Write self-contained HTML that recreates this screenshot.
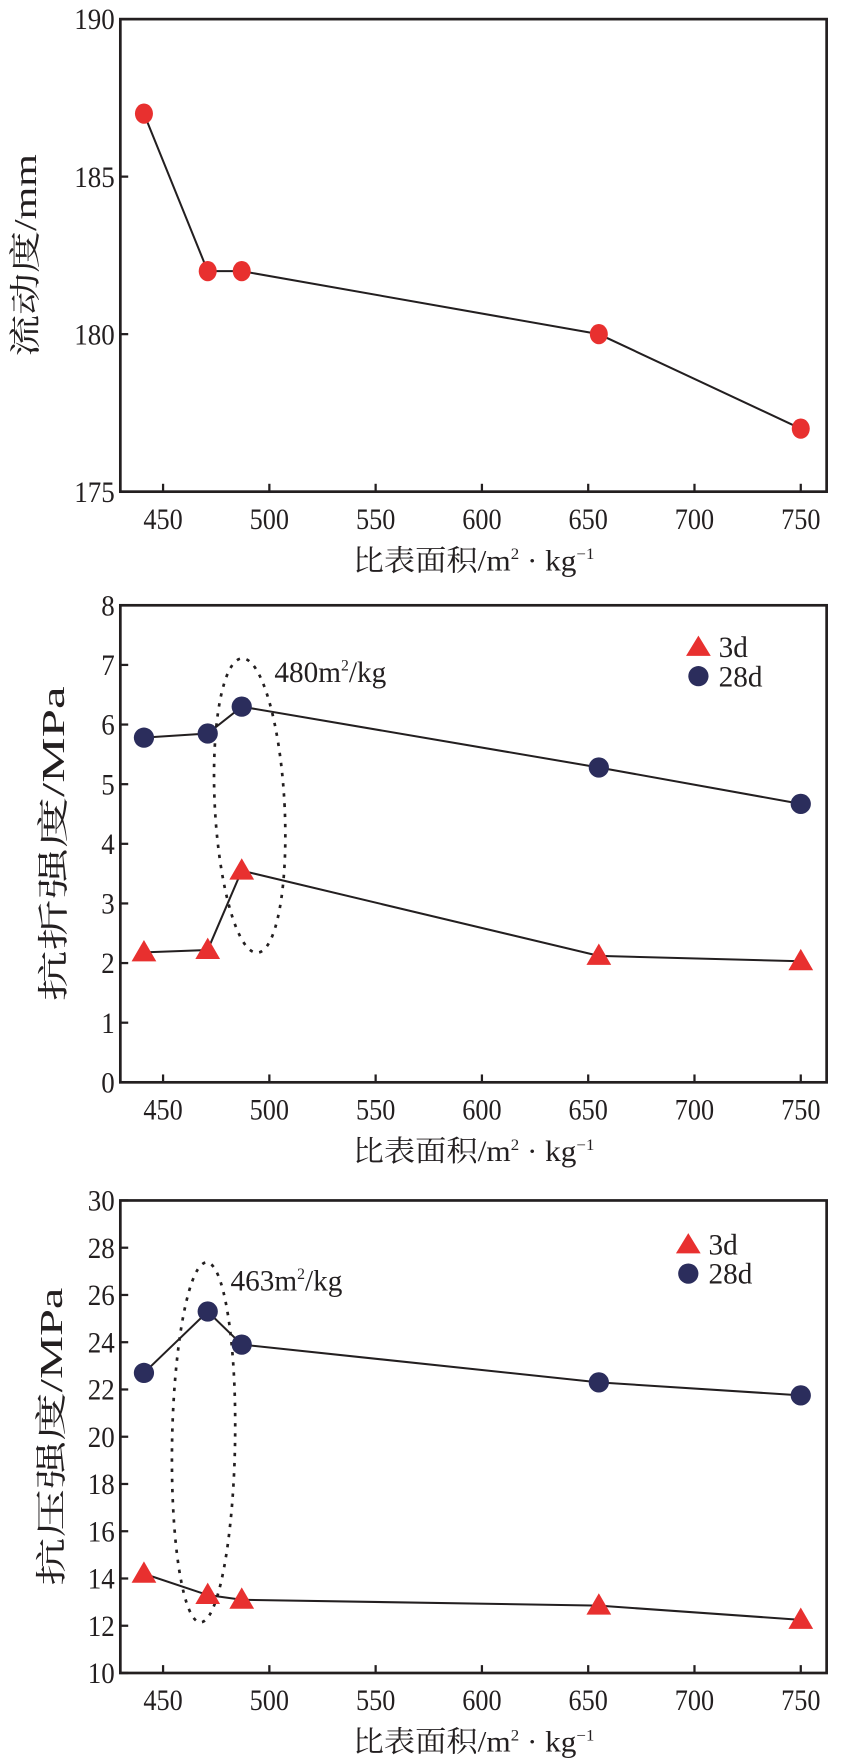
<!DOCTYPE html>
<html><head><meta charset="utf-8"><style>
html,body{margin:0;padding:0;background:#fff;}
svg{display:block;}
text{font-family:"Liberation Serif","Noto Serif CJK SC","Noto Sans CJK SC",serif;fill:#231f20;}
</style></head><body>
<svg id="c" width="848" height="1763" viewBox="0 0 754 1567" preserveAspectRatio="none" xmlns="http://www.w3.org/2000/svg"></svg>
<script>
const xCats=[441,471,487,655,750];
const xTicks=[450,500,550,600,650,700,750];
const flowVals=[187,182,182,180,177];
const flowTicks=[175,180,185,190];
const flex3d=[2.18,2.22,3.55,2.12,2.03];
const flex28d=[5.78,5.85,6.3,5.28,4.67];
const flexTicks=[0,1,2,3,4,5,6,7,8];
const comp3d=[14.2,13.3,13.1,12.85,12.25];
const comp28d=[22.7,25.3,23.9,22.3,21.75];
const compTicks=[10,12,14,16,18,20,22,24,26,28,30];

const NS="http://www.w3.org/2000/svg";
const svg=document.getElementById('c');
function mk(tag,attrs,parent){const e=document.createElementNS(NS,tag);for(const k in attrs)e.setAttribute(k,attrs[k]);(parent||svg).appendChild(e);return e;}
const L=107,R=735;
function xs(v){return 145+(v-450)*(712-145)/300;}

function panel(name,top,bot,ymin,ymax,ticks,ytitle,ytx,ytl,series,ell,legend){
  const g=mk('g',{});
  
  
  const ys=v=>bot-(v-ymin)*(bot-top)/(ymax-ymin);
  const frame=mk('rect',{x:L,y:top,width:R-L,height:bot-top,fill:'none',stroke:'#231f20','stroke-width':2.4},g);
  
  
  ticks.forEach(t=>{
    const y=ys(t);
    mk('line',{x1:L,x2:L+7,y1:y,y2:y,stroke:'#231f20','stroke-width':2},g);
    const tx=mk('text',{x:L-5,y:y+9,'text-anchor':'end','font-size':26,textLength:String(t).length*12,lengthAdjust:'spacingAndGlyphs'},g);
    tx.textContent=t;
    
    
  });
  xTicks.forEach(t=>{
    const x=xs(t);
    mk('line',{x1:x,x2:x,y1:bot,y2:bot-7,stroke:'#231f20','stroke-width':2},g);
    const tx=mk('text',{x:x,y:bot+33,'text-anchor':'middle','font-size':26,textLength:35,lengthAdjust:'spacingAndGlyphs'},g);
    tx.textContent=t;
    
    
  });
  const xt=mk('text',{x:421,y:bot+70,'text-anchor':'middle','font-size':26,textLength:215,lengthAdjust:'spacingAndGlyphs'},g);
  xt.innerHTML='比表面积/m<tspan font-size="14" dy="-10">2</tspan><tspan dy="10"> · kg</tspan><tspan font-size="14" dy="-10">−1</tspan>';
  
  
  const yc=(top+bot)/2;
  const yt=mk('text',{x:0,y:0,'text-anchor':'middle','font-size':28,textLength:ytl,lengthAdjust:'spacingAndGlyphs',transform:`translate(${ytx},${yc}) rotate(-90)`},g);
  yt.textContent=ytitle;
  
  
  if(ell){
    const e=mk('ellipse',{cx:ell[0],cy:ell[1],rx:ell[2],ry:ell[3],fill:'none',stroke:'#231f20','stroke-width':2.4,'stroke-dasharray':'3 6',transform:`rotate(${ell[4]} ${ell[0]} ${ell[1]})`},g);
    
    
    const lt=mk('text',{x:ell[5],y:ell[6],'font-size':26},g);
    lt.innerHTML=ell[7]+'m<tspan font-size="14" dy="-10">2</tspan><tspan dy="10">/kg</tspan>';
    
    
  }
  series.forEach(s=>{
    const pts=xCats.map((c,i)=>[xs(c),ys(s.vals[i])]);
    const pl=mk('polyline',{points:pts.map(p=>p.join(',')).join(' '),fill:'none',stroke:'#231f20','stroke-width':1.8},g);
    
    
    pts.forEach(p=>{
      let m;
      if(s.shape==='tri'){
        m=mk('polygon',{points:`${p[0]},${p[1]-11} ${p[0]-11},${p[1]+8} ${p[0]+11},${p[1]+8}`,fill:s.color},g);
      }else{
        m=mk('ellipse',{cx:p[0],cy:p[1],rx:s.rx||9,ry:9,fill:s.color},g);
      }
      
      
    });
  });
  if(legend){
    const lg=mk('g',{},g);
    
    
    const [lx,ly]=legend;
    mk('polygon',{points:`${lx},${ly-10} ${lx-11},${ly+8} ${lx+11},${ly+8}`,fill:'#e8302f'},lg);
    mk('ellipse',{cx:lx,cy:ly+26,rx:9,ry:9,fill:'#2b2d5c'},lg);
    const t1=mk('text',{x:lx+18,y:ly+9,'font-size':26},lg);t1.textContent='3d';
    
    
    const t2=mk('text',{x:lx+18,y:ly+35,'font-size':26},lg);t2.textContent='28d';
    
    
  }
}
panel('flow-chart',17,437,175,190,flowTicks,'流动度/mm',32,180,
  [{name:'flow',vals:flowVals,color:'#e8302f',shape:'circle',rx:8}],null,null);
panel('flexural-chart',538,962,0,8,flexTicks,'抗折强度/MPa',57,280,
  [{name:'flex-28d',vals:flex28d,color:'#2b2d5c',shape:'circle'},{name:'flex-3d',vals:flex3d,color:'#e8302f',shape:'tri'}],
  [222,716,31,131,-3,244,606,'480'],[621,575]);
panel('compressive-chart',1067,1487,10,30,compTicks,'抗压强度/MPa',55,265,
  [{name:'comp-28d',vals:comp28d,color:'#2b2d5c',shape:'circle'},{name:'comp-3d',vals:comp3d,color:'#e8302f',shape:'tri'}],
  [181,1282,28,160,1,205,1147,'463'],[612,1106]);
</script>
</body></html>
